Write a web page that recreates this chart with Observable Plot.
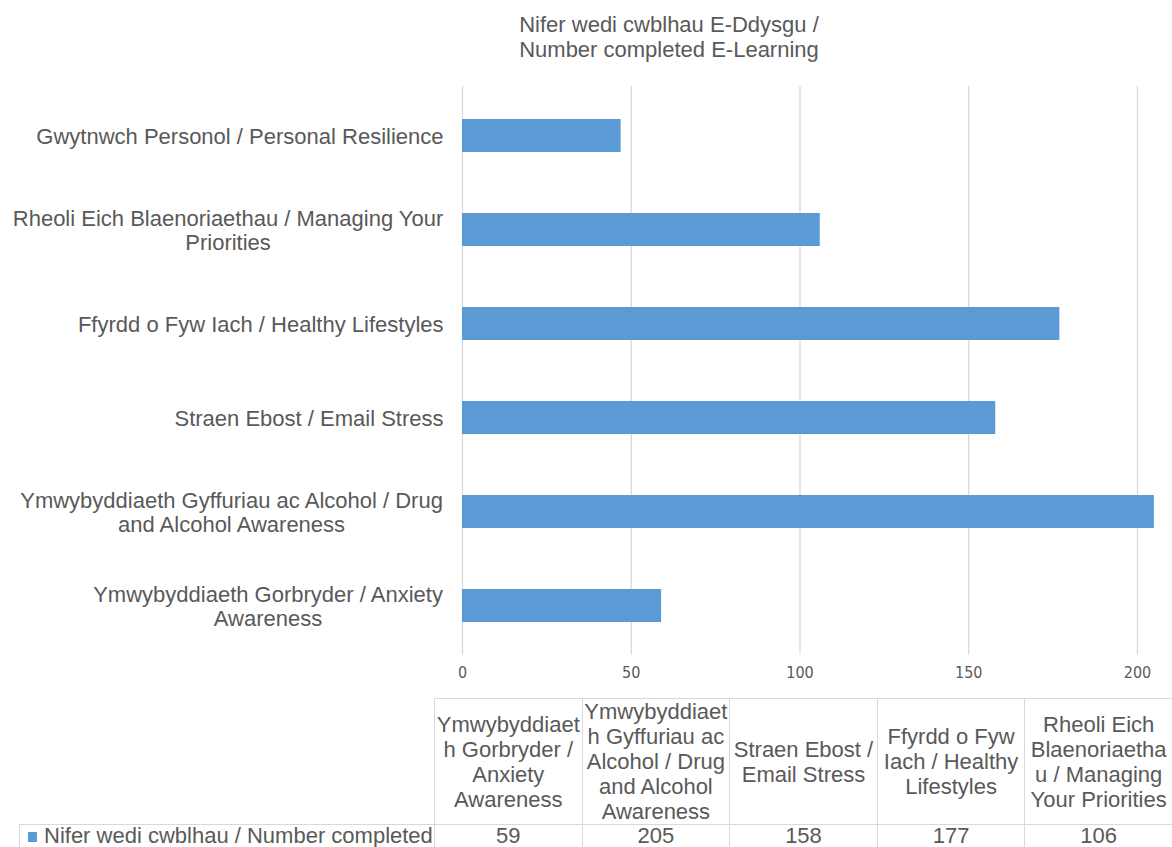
<!DOCTYPE html>
<html>
<head>
<meta charset="utf-8">
<script src="https://cdn.jsdelivr.net/npm/d3@7"></script>
<script src="https://cdn.jsdelivr.net/npm/@observablehq/plot@0.6"></script>
<style>
  html, body { margin: 0; padding: 0; background: #fff; }
  #wrap { position: relative; width: 1172px; height: 847px; overflow: hidden; font-family: "Liberation Sans", Arial, sans-serif; color: #595959; }
  #title { position: absolute; left: 0; top: 12px; width: 1338px; text-align: center; font-size: 22px; line-height: 25px; }
  #chart { position: absolute; left: 0; top: 0; }
  #tbl { position: absolute; left: 19px; top: 698px; border-collapse: collapse; table-layout: fixed; font-size: 22px; color: #595959; }
  #tbl td { border: 1px solid #d9d9d9; text-align: center; vertical-align: middle; padding: 0; line-height: 25px; white-space: pre; overflow: hidden; }
  #tbl tr.vals td { vertical-align: top; line-height: 21px; }
  #tbl td.blank { border: none; }
  #tbl td.leg { text-align: left; padding-left: 8px; }
  .sw { display: inline-block; width: 9px; height: 10px; background: #5b9bd5; margin-right: 7px; vertical-align: 1px; }
</style>
</head>
<body>
<div id="wrap">
  <div id="chart"></div>
  <div id="title"></div>
  <table id="tbl"></table>
</div>
<script>
// Categories in data-table order (bottom bar to top bar)
const categories = [
  "Ymwybyddiaeth Gorbryder / Anxiety Awareness",
  "Ymwybyddiaeth Gyffuriau ac Alcohol / Drug and Alcohol Awareness",
  "Straen Ebost / Email Stress",
  "Ffyrdd o Fyw Iach / Healthy Lifestyles",
  "Rheoli Eich Blaenoriaethau / Managing Your Priorities",
  "Gwytnwch Personol / Personal Resilience"
];
const values = [59, 205, 158, 177, 106, 47];
// Axis tick labels (wrapped as in the picture)
const axisLabels = [
  "Ymwybyddiaeth Gorbryder / Anxiety\nAwareness",
  "Ymwybyddiaeth Gyffuriau ac Alcohol / Drug\nand Alcohol Awareness",
  "Straen Ebost / Email Stress",
  "Ffyrdd o Fyw Iach / Healthy Lifestyles",
  "Rheoli Eich Blaenoriaethau / Managing Your\nPriorities",
  "Gwytnwch Personol / Personal Resilience"
];
// Data-table header labels (wrapped as in the picture); only the first five columns are visible
const tableLabels = [
  "Ymwybyddiaet\nh Gorbryder /\nAnxiety\nAwareness",
  "Ymwybyddiaet\nh Gyffuriau ac\nAlcohol / Drug\nand Alcohol\nAwareness",
  "Straen Ebost /\nEmail Stress",
  "Ffyrdd o Fyw\nIach / Healthy\nLifestyles",
  "Rheoli Eich\nBlaenoriaetha\nu / Managing\nYour Priorities"
];
const xTicks = [0, 50, 100, 150, 200];
const titleLines = ["Nifer wedi cwblhau E-Ddysgu /", "Number completed E-Learning"];
const seriesName = "Nifer wedi cwblhau / Number completed";

const data = categories.map((c, i) => ({category: c, value: values[i]}));

// measure label widths so multi-line labels are centred on their widest line
const ctx = document.createElement("canvas").getContext("2d");
ctx.font = "22px 'Liberation Sans'";
const labelMarks = categories.map((c, i) => {
  const lines = axisLabels[i].split("\n");
  const w = Math.max(...lines.map(l => ctx.measureText(l).width));
  return Plot.text([c], {
    y: d => d, frameAnchor: "left", dx: -(19 + w / 2),
    text: () => axisLabels[i], textAnchor: "middle", lineHeight: 1.09,
    fontSize: 22, fill: "#595959"
  });
});

const chart = Plot.plot({
  width: 1172,
  height: 700,
  marginLeft: 462,
  marginRight: 0,
  marginTop: 86,
  marginBottom: 45.5,
  style: {fontFamily: "Liberation Sans, Arial, sans-serif", color: "#595959", background: "transparent"},
  x: {domain: [0, 210.37], ticks: xTicks},
  y: {domain: categories.slice().reverse(), paddingInner: 0.65, paddingOuter: 0.325, label: null, axis: null},
  marks: [
    Plot.gridX(xTicks, {stroke: "#d9d9d9", strokeOpacity: 1, strokeWidth: 1.3}),
    Plot.barX(data, {x: "value", y: "category", fill: "#5b9bd5"}),
    Plot.axisX({ticks: xTicks, tickSize: 0, tickPadding: 12, fontSize: 16, fontFamily: "Liberation Sans Narrow, DejaVu Sans Condensed, sans-serif", label: null, fill: "#595959"}),
    ...labelMarks
  ]
});
document.getElementById("chart").appendChild(chart);

document.getElementById("title").innerHTML = titleLines.join("<br>");

const tbl = document.getElementById("tbl");
const colW = 147.6;
const firstW = 415;
let html = `<colgroup><col style="width:${firstW}px">${tableLabels.map(() => `<col style="width:${colW}px">`).join("")}</colgroup>`;
html += `<tr style="height:125px"><td class="blank"></td>${tableLabels.map(t => `<td>${t}</td>`).join("")}</tr>`;
html += `<tr class="vals" style="height:27px"><td class="leg"><span class="sw"></span>${seriesName}</td>${tableLabels.map((t, i) => `<td>${values[i]}</td>`).join("")}</tr>`;
tbl.innerHTML = html;
tbl.style.width = (firstW + colW * tableLabels.length) + "px";
</script>
</body>
</html>
